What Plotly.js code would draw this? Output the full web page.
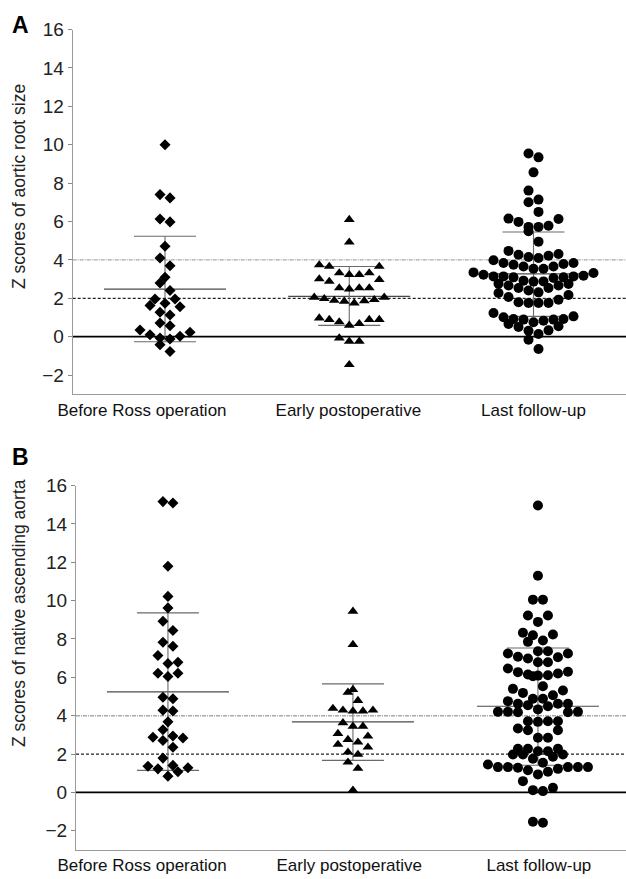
<!DOCTYPE html>
<html>
<head>
<meta charset="utf-8">
<script src="https://cdn.plot.ly/plotly-3.0.1.min.js"></script>
<style>
html,body{margin:0;padding:0;background:#fff;}
#chart{width:626px;height:879px;}
</style>
</head>
<body>
<div id="chart"></div>
<script>
// ---------- data ----------
const categories = ["Before Ross operation", "Early postoperative", "Last follow-up"];

// Panel A: Z scores of aortic root size
const rootBefore = [10.0, 7.40, 7.23, 6.13, 5.98, 4.71, 4.10, 3.70, 3.09, 2.80, 2.41, 1.96, 1.96, 1.74,
  1.63, 1.56, 1.27, 1.13, 0.71, 0.57, 0.35, 0.23, 0.10, 0.02, -0.07, -0.12, -0.42, -0.77];
const rootEarly = [6.10, 4.92, 3.74, 3.66, 3.66, 3.32, 3.32, 3.23, 3.23, 3.01, 2.97, 2.88,
  2.54, 2.54, 2.54, 2.48, 2.05, 2.05, 1.98, 1.93, 1.89, 1.87, 1.84, 1.75,
  0.97, 0.89, 0.89, 0.89, 0.77, 0.68, 0.59, -0.07, -0.24, -0.24, -1.46];
const rootLast = [9.54, 9.34, 8.56, 7.61, 7.14, 7.00, 6.50, 6.15, 6.13, 5.98, 5.78, 5.72, 5.72,
  5.49, 4.95, 4.47, 4.31, 4.27, 4.22, 4.15, 4.10, 3.98, 3.84, 3.84, 3.79, 3.75, 3.66, 3.66,
  3.54, 3.54, 3.35, 3.32, 3.23, 3.18, 3.14, 3.14, 3.14, 3.09, 3.09, 3.06, 2.92, 2.88, 2.87,
  2.76, 2.75, 2.67, 2.67, 2.54, 2.54, 2.41, 2.31, 2.28, 2.17, 2.07, 1.93, 1.79, 1.76, 1.76,
  1.76, 1.23, 1.06, 1.01, 0.92, 0.92, 0.89, 0.89, 0.83, 0.75, 0.66, 0.54, 0.51, 0.33, 0.31,
  0.14, -0.16, -0.64];
const rootMean = [2.48, 2.10, 3.27];
const rootSdLow = [-0.26, 0.59, 1.06];
const rootSdHigh = [5.23, 3.66, 5.45];

// Panel B: Z scores of native ascending aorta
const ascBefore = [15.16, 15.09, 11.79, 10.22, 9.62, 8.92, 8.44, 7.83, 7.62, 7.14, 6.79, 6.72,
  6.21, 6.21, 6.04, 4.96, 4.88, 4.29, 4.25, 3.68, 3.27, 2.94, 2.88, 2.84, 2.71, 2.36, 1.79,
  1.41, 1.37, 1.29, 1.23, 1.08, 0.85];
const ascEarly = [9.44, 7.71, 5.36, 5.22, 4.79, 4.38, 4.29, 4.29, 4.24, 4.24, 3.63, 3.45, 3.45,
  3.07, 2.93, 2.76, 2.62, 2.50, 2.36, 2.10, 1.98, 1.58, 1.25, 0.12];
const ascLast = [14.96, 11.30, 10.05, 10.05, 9.22, 9.22, 8.89, 8.32, 8.23, 8.19, 7.92, 7.85,
  7.36, 7.36, 7.24, 7.24, 7.07, 7.05, 6.98, 6.79, 6.79, 6.46, 6.29, 6.27, 6.20, 6.15, 6.11,
  6.09, 6.06, 5.54, 5.40, 5.31, 5.19, 5.07, 4.88, 4.88, 4.76, 4.62, 4.62, 4.62, 4.55, 4.49,
  4.32, 4.20, 4.20, 4.20, 4.18, 4.18, 3.71, 3.71, 3.71, 3.68, 3.33, 3.24, 3.24, 2.85, 2.85,
  2.28, 2.28, 2.28, 2.15, 2.15, 1.98, 1.98, 1.98, 1.86, 1.76, 1.55, 1.46, 1.32, 1.32, 1.32,
  1.32, 1.32, 1.29, 1.23, 1.16, 1.08, 0.94, 0.59, 0.24, 0.12, 0.07, -1.53, -1.58];
const ascMean = [5.24, 3.68, 4.49];
const ascSdLow = [1.15, 1.67, 1.42];
const ascSdHigh = [9.36, 5.66, 7.53];

const yTicks = [-2, 0, 2, 4, 6, 8, 10, 12, 14, 16];
const refLines = [0, 2, 4];

// ---------- layout helpers ----------
const W = 626, H = 879;
const FONT = "Liberation Sans, Arial, Helvetica, sans-serif";

// Prism-style row layout: rows are grown from the lowest value upward;
// inside a row the lowest values sit in the middle and the rest fan out.
function swarmSlots(values, binWidth) {
  const idx = values.map((v, i) => i).sort((a, b) => values[a] - values[b]);
  const slots = new Array(values.length).fill(0);
  let k = 0;
  while (k < idx.length) {
    const start = values[idx[k]];
    const row = [];
    while (k < idx.length && values[idx[k]] < start + binWidth) { row.push(idx[k]); k++; }
    const n = row.length;
    row.forEach((id, j) => {
      let s;
      if (n % 2 === 1) {
        s = j === 0 ? 0 : Math.ceil(j / 2) * (j % 2 === 1 ? 1 : -1);
      } else {
        s = (Math.floor(j / 2) + 0.5) * (j % 2 === 0 ? 1 : -1);
      }
      slots[id] = s;
    });
  }
  return slots;
}

function pointTrace(values, cat, step, symbol, size, xa, ya) {
  const slots = swarmSlots(values, 0.55);
  return {
    type: "scatter", mode: "markers",
    x: slots.map(s => cat + s * step), y: values,
    xaxis: xa, yaxis: ya,
    marker: {symbol: symbol, size: size, color: "#000", line: {width: 0}},
    hoverinfo: "y", showlegend: false, cliponaxis: false
  };
}

const pxPerCatA = 184.25, pxPerCatB = 185;
const stepA = 10 / pxPerCatA, stepB = 10 / pxPerCatB;

const traces = [
  pointTrace(rootBefore, 0, stepA, "diamond", 8.5, "x", "y"),
  pointTrace(rootEarly, 1, stepA, "triangle-up", 9.5, "x", "y"),
  pointTrace(rootLast, 2, stepA, "circle", 10, "x", "y"),
  pointTrace(ascBefore, 0, stepB, "diamond", 8.5, "x2", "y2"),
  pointTrace(ascEarly, 1, stepB, "triangle-up", 9.5, "x2", "y2"),
  pointTrace(ascLast, 2, stepB, "circle", 10, "x2", "y2")
];

function panelShapes(xref, yref, domStart, mean, lo, hi, pxPerCat) {
  const sh = [];
  const refStyle = {
    0: {color: "#000", width: 1.8, dash: "solid"},
    2: {color: "#222", width: 1.2, dash: "3px,2px"},
    4: {color: "#a8a8a8", width: 1.4, dash: "4px,1px,1px,1px"}
  };
  refLines.forEach(v => {
    sh.push({type: "line", layer: "below", xref: "paper", yref: yref,
      x0: domStart, x1: 1, y0: v, y1: v, line: refStyle[v]});
  });
  const hwMean = 61 / pxPerCat, hwSd = 31 / pxPerCat;
  mean.forEach((m, i) => {
    sh.push({type: "line", layer: "below", xref: xref, yref: yref,
      x0: i - hwMean, x1: i + hwMean, y0: m, y1: m, line: {color: "#4a4a4a", width: 1.1}});
    sh.push({type: "line", layer: "below", xref: xref, yref: yref,
      x0: i - hwSd, x1: i + hwSd, y0: lo[i], y1: lo[i], line: {color: "#6a6a6a", width: 1.1}});
    sh.push({type: "line", layer: "below", xref: xref, yref: yref,
      x0: i - hwSd, x1: i + hwSd, y0: hi[i], y1: hi[i], line: {color: "#6a6a6a", width: 1.1}});
    sh.push({type: "line", layer: "below", xref: xref, yref: yref,
      x0: i, x1: i, y0: lo[i], y1: hi[i], line: {color: "#6a6a6a", width: 1.1}});
  });
  return sh;
}

function yDom(topPx, botPx) { return [1 - botPx / H, 1 - topPx / H]; }
const domA = 72.7 / W, domB = 76 / W;

function yAxis(dom, anchor) {
  return {
    domain: dom, anchor: anchor, range: [-3, 16], tickvals: yTicks,
    ticks: "outside", ticklen: 4, tickwidth: 1, tickcolor: "#888",
    showline: true, linecolor: "#9a9a9a", linewidth: 1,
    showgrid: false, zeroline: false, fixedrange: true,
    tickfont: {family: FONT, size: 19, color: "#222"}
  };
}
function xAxis(dom, anchor, range, tickvals) {
  return {
    domain: dom, anchor: anchor, range: range,
    tickvals: tickvals, ticktext: categories, ticks: "",
    showline: true, linecolor: "#9a9a9a", linewidth: 1,
    showgrid: false, zeroline: false, fixedrange: true,
    tickfont: {family: FONT, size: 17, color: "#111"}
  };
}

const layout = {
  width: W, height: H,
  margin: {l: 0, r: 0, t: 0, b: 0},
  paper_bgcolor: "#fff", plot_bgcolor: "#fff",
  showlegend: false,
  xaxis: xAxis([domA, 1], "y", [-0.501, 2.502], [-0.125, 0.995, 2.0]),
  yaxis: yAxis(yDom(29.5, 394.3), "x"),
  xaxis2: xAxis([domB, 1], "y2", [-0.497, 2.476], [-0.14, 0.98, 2.005]),
  yaxis2: yAxis(yDom(485.5, 850), "x2"),
  shapes: [].concat(
    panelShapes("x", "y", domA, rootMean, rootSdLow, rootSdHigh, pxPerCatA),
    panelShapes("x2", "y2", domB, ascMean, ascSdLow, ascSdHigh, pxPerCatB)
  ),
  annotations: [
    {text: "<b>A</b>", xref: "paper", yref: "paper", x: 20 / W, y: 1 - 25 / H,
     xanchor: "center", yanchor: "middle",
     showarrow: false, font: {family: FONT, size: 23, color: "#000"}},
    {text: "<b>B</b>", xref: "paper", yref: "paper", x: 20 / W, y: 1 - 457 / H,
     xanchor: "center", yanchor: "middle",
     showarrow: false, font: {family: FONT, size: 23, color: "#000"}},
    {text: "Z scores of aortic root size", xref: "paper", yref: "paper",
     x: 19 / W, y: 1 - 187 / H, textangle: -90, showarrow: false,
     xanchor: "center", yanchor: "middle",
     font: {family: FONT, size: 17.5, color: "#222"}},
    {text: "Z scores of native ascending aorta", xref: "paper", yref: "paper",
     x: 19 / W, y: 1 - 613 / H, textangle: -90, showarrow: false,
     xanchor: "center", yanchor: "middle",
     font: {family: FONT, size: 17.5, color: "#222"}}
  ]
};

Plotly.newPlot("chart", traces, layout, {displayModeBar: false, staticPlot: true});
</script>
</body>
</html>
